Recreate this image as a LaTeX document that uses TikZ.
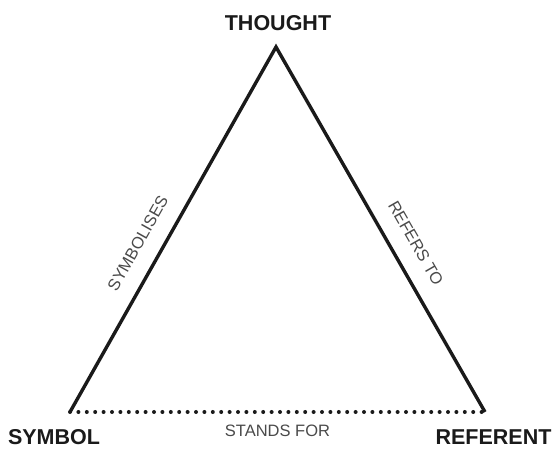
\documentclass[tikz,border=0pt]{standalone}
\usepackage{fontspec}
\setmainfont{Liberation Sans}
\usepackage{tikz}
\usetikzlibrary{positioning}
\definecolor{triLine}{HTML}{1A1A1A}
\definecolor{triText}{HTML}{4A4A4A}

\begin{document}
\begin{tikzpicture}[x=1pt, y=1pt,
    corner/.style={font=\fontsize{21.5}{24}\selectfont\bfseries, text=triLine},
    edgelabel/.style={font=\fontsize{16.5}{19}\selectfont, text=triText}]
    \useasboundingbox (0,0) rectangle (553,449);

    \coordinate (apex) at (276,402);
    \coordinate (symb) at (70,37);
    \coordinate (refr) at (485,37);

    \draw[triLine, line width=3.4pt, line join=miter]
        (symb) -- node[edgelabel, pos=0.43, sloped, above=13pt] (symbolises) {SYMBOLISES}
        (apex) -- node[edgelabel, pos=0.57, sloped, above=13pt] (refersto) {REFERS TO}
        (refr);
    \draw[triLine, line width=4pt, line cap=round, dash pattern=on 0pt off 8.4pt]
        (symb) -- node[edgelabel, midway, below=8pt] (standsfor) {STANDS FOR} (refr);

    \node[corner, above=13pt of apex, xshift=2pt] (thought) {THOUGHT};
    \node[corner] (symbol) at (54,11.5) {SYMBOL};
    \node[corner] (referent) at (493.5,11.5) {REFERENT};
\end{tikzpicture}
\end{document}
